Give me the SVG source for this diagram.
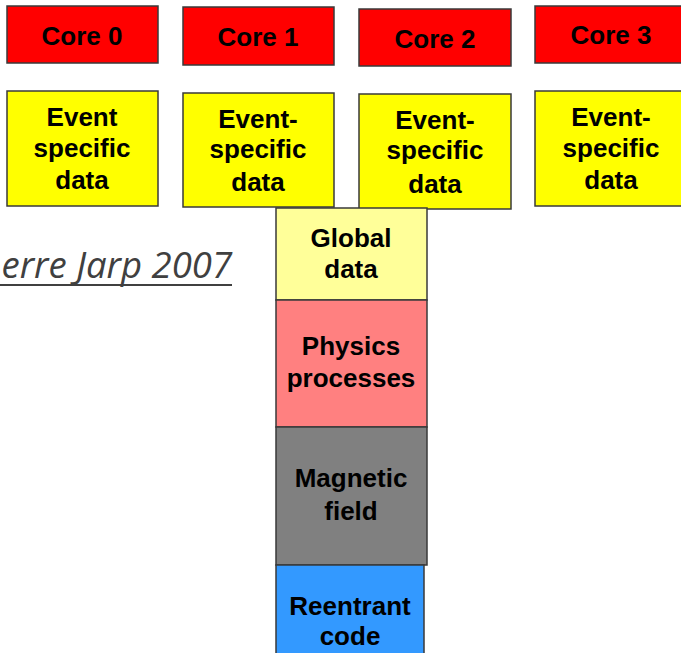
<svg xmlns="http://www.w3.org/2000/svg" width="681" height="653" viewBox="0 0 681 653">
  <style>
    .box { stroke: #3a3a3a; stroke-width: 1.5; }
    .core { fill: #ff0000; }
    .event { fill: #ffff00; }
    .global { fill: #ffff99; }
    .physics { fill: #ff8080; }
    .magnetic { fill: #808080; }
    .reentrant { fill: #3399ff; }
    .lbl { font-family: "Liberation Sans", Arial, sans-serif; font-weight: bold; font-size: 26px; fill: #000; text-anchor: middle; }
    .credit { font-family: "Open Sans", "Liberation Sans", sans-serif; font-style: italic; font-size: 36.5px; fill: #404040; text-anchor: end; }
  </style>
  <rect width="681" height="653" fill="#ffffff"/>

  <!-- cores -->
  <g id="core0">
    <rect class="box core" x="7" y="6" width="151" height="57"/>
    <text class="lbl" x="82" y="45">Core 0</text>
  </g>
  <g id="core1">
    <rect class="box core" x="183" y="7" width="151" height="58"/>
    <text class="lbl" x="258" y="46">Core 1</text>
  </g>
  <g id="core2">
    <rect class="box core" x="359" y="9" width="152" height="57"/>
    <text class="lbl" x="435" y="48">Core 2</text>
  </g>
  <g id="core3">
    <rect class="box core" x="535" y="6" width="152" height="57"/>
    <text class="lbl" x="611" y="44">Core 3</text>
  </g>

  <!-- per-core event data -->
  <g id="event0">
    <rect class="box event" x="7" y="91" width="151" height="115"/>
    <text class="lbl" x="82" y="126">Event</text>
    <text class="lbl" x="82" y="157">specific</text>
    <text class="lbl" x="82" y="189">data</text>
  </g>
  <g id="event1">
    <rect class="box event" x="183" y="93" width="151" height="114"/>
    <text class="lbl" x="258" y="128">Event-</text>
    <text class="lbl" x="258" y="158">specific</text>
    <text class="lbl" x="258" y="191">data</text>
  </g>
  <g id="event2">
    <rect class="box event" x="359" y="94" width="152" height="115"/>
    <text class="lbl" x="435" y="129">Event-</text>
    <text class="lbl" x="435" y="159">specific</text>
    <text class="lbl" x="435" y="193">data</text>
  </g>
  <g id="event3">
    <rect class="box event" x="535" y="91" width="152" height="115"/>
    <text class="lbl" x="611" y="126">Event-</text>
    <text class="lbl" x="611" y="157">specific</text>
    <text class="lbl" x="611" y="189">data</text>
  </g>

  <!-- shared stack -->
  <g id="global">
    <rect class="box global" x="276" y="208" width="151" height="92"/>
    <text class="lbl" x="351" y="247">Global</text>
    <text class="lbl" x="351" y="278">data</text>
  </g>
  <g id="physics">
    <rect class="box physics" x="276" y="300" width="151" height="127"/>
    <text class="lbl" x="351" y="355">Physics</text>
    <text class="lbl" x="351" y="387">processes</text>
  </g>
  <g id="magnetic">
    <rect class="box magnetic" x="276" y="427" width="151" height="138"/>
    <text class="lbl" x="351" y="487">Magnetic</text>
    <text class="lbl" x="351" y="520">field</text>
  </g>
  <g id="reentrant">
    <rect class="box reentrant" x="276" y="565" width="148" height="95"/>
    <text class="lbl" x="350" y="615">Reentrant</text>
    <text class="lbl" x="350" y="645">code</text>
  </g>

  <g id="connectors"/>

  <!-- credit line -->
  <g id="credit">
    <text class="credit" x="232" y="278">erre Jarp 2007</text>
    <line x1="0" y1="285" x2="232" y2="285" stroke="#404040" stroke-width="2"/>
  </g>
</svg>
